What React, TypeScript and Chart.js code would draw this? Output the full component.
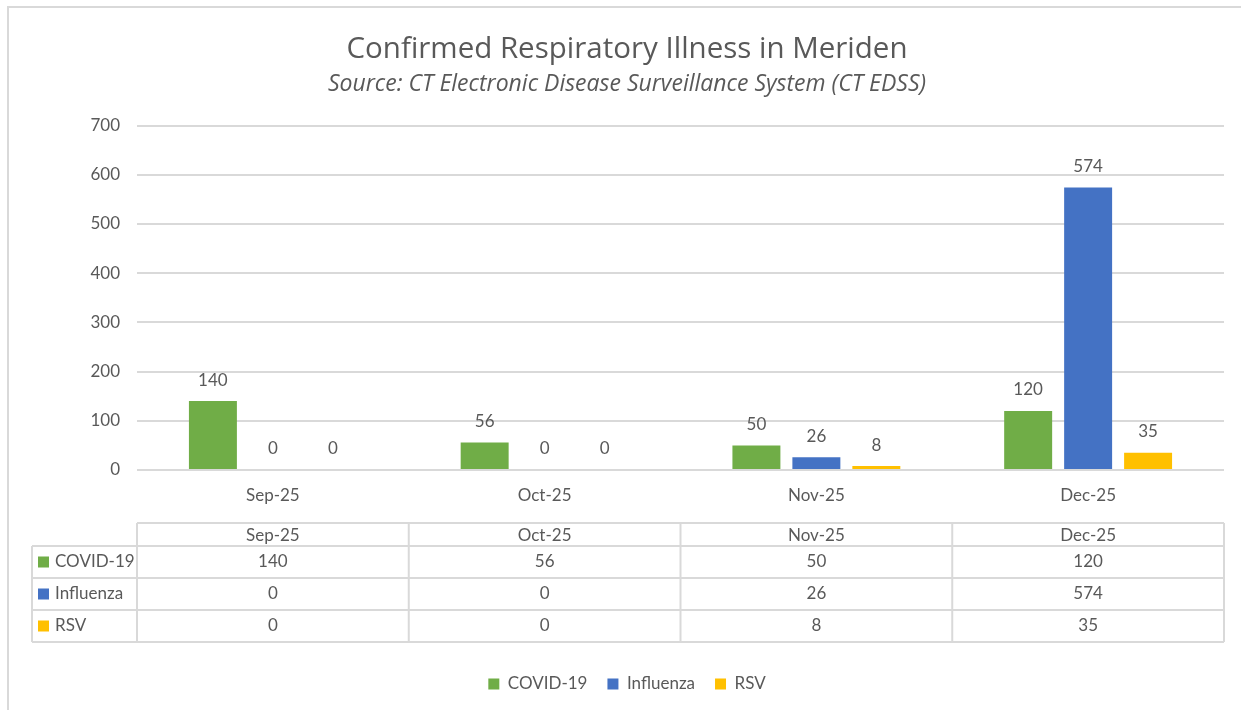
import React, { useEffect, useRef } from "react";
import { Chart, registerables } from "chart.js";

Chart.register(...registerables);

const categories = ["Sep-25", "Oct-25", "Nov-25", "Dec-25"];
const covidValues = [140, 56, 50, 120];
const influenzaValues = [0, 0, 26, 574];
const rsvValues = [0, 0, 8, 35];
const seriesNames = ["COVID-19", "Influenza", "RSV"];
const seriesColors = ["#70ad47", "#4472c4", "#ffc000"];
const yTicks = [0, 100, 200, 300, 400, 500, 600, 700];

const TEXT = "#595959";
const LINE = "#d9d9d9";
const FONT = "Lato";

const framePlugin = {
  id: "frame",
  beforeDraw(chart: any) {
    const ctx = chart.ctx;
    ctx.save();
    ctx.fillStyle = "#ffffff";
    ctx.fillRect(0, 0, chart.width, chart.height);
    ctx.fillStyle = LINE;
    ctx.fillRect(7, 6, chart.width - 7, 2);
    ctx.fillRect(7, 6, 2, chart.height - 6);
    ctx.restore();
  },
};

const labelPlugin = {
  id: "barLabels",
  afterDatasetsDraw(chart: any) {
    const ctx = chart.ctx;
    ctx.save();
    ctx.font = `17px ${FONT}`;
    ctx.fillStyle = TEXT;
    ctx.textAlign = "center";
    ctx.textBaseline = "middle";
    chart.data.datasets.forEach((ds: any, di: number) => {
      const meta = chart.getDatasetMeta(di);
      meta.data.forEach((bar: any, i: number) => {
        ctx.fillText(String(ds.data[i]), bar.x, bar.y - 21);
      });
    });
    ctx.restore();
  },
};

const tablePlugin = {
  id: "dataTable",
  afterDraw(chart: any) {
    const ctx = chart.ctx;
    const ca = chart.chartArea;
    const xs = chart.scales.x;
    const n = categories.length;
    const catW = (ca.right - ca.left) / n;
    const top = ca.bottom + 53;
    const headerH = 23;
    const rowH = 32;
    const leftX = 32;
    const rows = chart.data.datasets.length;
    const bottom = top + headerH + rowH * rows;

    ctx.save();
    ctx.strokeStyle = LINE;
    ctx.lineWidth = 2;
    ctx.beginPath();
    ctx.moveTo(ca.left, top);
    ctx.lineTo(ca.right, top);
    for (let r = 0; r <= rows; r++) {
      const y = top + headerH + r * rowH;
      ctx.moveTo(leftX, y);
      ctx.lineTo(ca.right, y);
    }
    ctx.moveTo(leftX, top + headerH);
    ctx.lineTo(leftX, bottom);
    for (let c = 0; c <= n; c++) {
      const x = ca.left + c * catW;
      ctx.moveTo(x, top);
      ctx.lineTo(x, bottom);
    }
    ctx.stroke();

    ctx.font = `17px ${FONT}`;
    ctx.fillStyle = TEXT;
    ctx.textBaseline = "middle";
    ctx.textAlign = "center";
    categories.forEach((c, i) => {
      const x = xs.getPixelForValue(i);
      ctx.fillText(c, x, top + headerH / 2 + 1);
    });
    chart.data.datasets.forEach((ds: any, r: number) => {
      const yMid = top + headerH + r * rowH + rowH / 2;
      ctx.fillStyle = ds.backgroundColor;
      ctx.fillRect(38, yMid - 5.5, 11, 11);
      ctx.fillStyle = TEXT;
      ctx.textAlign = "left";
      ctx.fillText(ds.label, 55, yMid);
      ctx.textAlign = "center";
      ds.data.forEach((v: number, i: number) => {
        ctx.fillText(String(v), xs.getPixelForValue(i), yMid);
      });
    });
    ctx.restore();
  },
};

export default function App() {
  const ref = useRef<HTMLCanvasElement | null>(null);

  useEffect(() => {
    if (!ref.current) return;
    const values = [covidValues, influenzaValues, rsvValues];
    const chart = new Chart(ref.current, {
      type: "bar",
      data: {
        labels: categories,
        datasets: seriesNames.map((name, i) => ({
          label: name,
          data: values[i],
          backgroundColor: seriesColors[i],
          borderWidth: 0,
          categoryPercentage: 0.662,
          barPercentage: 0.8,
        })),
      },
      options: {
        responsive: false,
        animation: false,
        layout: { padding: { left: 30, right: 17, top: 0, bottom: 7.5 } },
        plugins: {
          title: {
            display: true,
            text: "Confirmed Respiratory Illness in Meriden",
            color: TEXT,
            font: { family: "'Open Sans'", size: 29.5, weight: "normal", lineHeight: 1.2 },
            padding: { top: 32, bottom: 3.5 },
          },
          subtitle: {
            display: true,
            text: "Source: CT Electronic Disease Surveillance System (CT EDSS)",
            color: TEXT,
            font: { family: "'Open Sans'", size: 23, style: "italic", weight: "normal", lineHeight: 1.2 },
            padding: { top: 0, bottom: 27 },
          },
          legend: {
            position: "bottom",
            labels: {
              color: TEXT,
              font: { family: FONT, size: 17 },
              boxWidth: 11,
              boxHeight: 11,
              padding: 20,
            },
          },
          tooltip: { enabled: false },
        },
        scales: {
          x: {
            grid: { display: false },
            border: { display: false },
            ticks: { color: TEXT, font: { family: FONT, size: 17 }, padding: 7 },
            afterFit(scale: any) {
              scale.height = 185.5;
            },
          },
          y: {
            min: 0,
            max: 700,
            afterBuildTicks(scale: any) {
              scale.ticks = yTicks.map((v) => ({ value: v }));
            },
            grid: { color: LINE, lineWidth: 2, drawTicks: false },
            border: { display: false },
            ticks: { color: TEXT, font: { family: FONT, size: 17 }, padding: 17 },
            afterFit(scale: any) {
              scale.width = 107;
            },
          },
        },
      },
      plugins: [framePlugin, labelPlugin, tablePlugin],
    });
    return () => chart.destroy();
  }, []);

  return (
    <canvas
      ref={ref}
      width={1241}
      height={710}
      style={{ position: "absolute", left: 0, top: 0, display: "block" }}
    />
  );
}
